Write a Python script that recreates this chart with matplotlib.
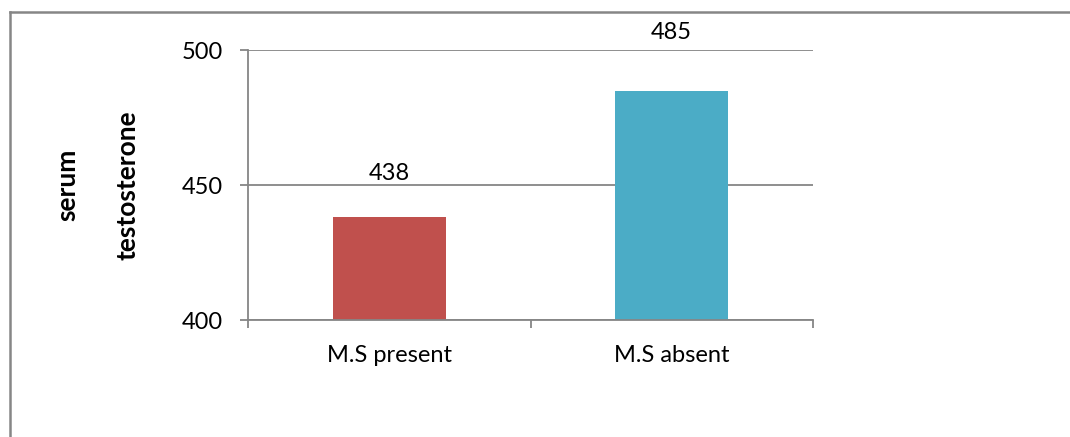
import matplotlib.pyplot as plt
from matplotlib.lines import Line2D

# serum testosterone by M.S status
groups = ["M.S present", "M.S absent"]
testosterone = [438, 485]
bar_colors = ["#C0504D", "#4BACC6"]

plt.rcParams["font.family"] = ["Lato", "DejaVu Sans"]
grey = "#868686"
fs = 17

fig = plt.figure(figsize=(10.7, 4.37), dpi=100)
ax = fig.add_axes([0.2318, 0.2677, 0.528, 0.6178])

x = range(len(groups))
ax.bar(x, testosterone, width=0.40, color=bar_colors, zorder=2)

# value labels sit well above each bar
label_pad = [44, 58]
for xi, val, pad in zip(x, testosterone, label_pad):
    ax.annotate(str(val), (xi, val), xytext=(0, pad * 0.72), textcoords="offset points",
                ha="center", va="center", fontsize=fs, color="black")

ax.set_ylim(400, 500)
ax.set_yticks([400, 450, 500])
ax.set_xlim(-0.5, 1.5)
ax.set_xticks([-0.5, 0.5, 1.5])
ax.set_xticklabels([])
ax.set_xticks(list(x), minor=True)
ax.set_xticklabels(groups, minor=True)

ax.yaxis.grid(True, color=grey, linewidth=1.3, zorder=1)
ax.set_axisbelow(True)
for s in ["top", "right"]:
    ax.spines[s].set_visible(False)
for s in ["left", "bottom"]:
    ax.spines[s].set_color(grey)
    ax.spines[s].set_linewidth(1.3)

ax.tick_params(axis="y", which="major", direction="out", length=5.8, width=1.3,
               color=grey, pad=12, labelsize=fs)
ax.tick_params(axis="x", which="major", direction="out", length=5.8, width=1.3,
               color=grey)
ax.tick_params(axis="x", which="minor", length=0, pad=18, labelsize=fs)

# two-line axis title
fig.text(67 / 1070, 1 - 185 / 437, "serum", rotation=90, ha="center", va="center",
         fontsize=19, fontweight="bold")
fig.text(127 / 1070, 1 - 185 / 437, "testosterone", rotation=90, ha="center", va="center",
         fontsize=19, fontweight="bold")

# chart area frame
fig.add_artist(Line2D([9.5 / 1070, 9.5 / 1070], [0, 1 - 12 / 437], color=grey, lw=1.8))
fig.add_artist(Line2D([9.5 / 1070, 1], [1 - 12 / 437, 1 - 12 / 437], color=grey, lw=1.8))

fig.savefig("out.png", dpi=100)
